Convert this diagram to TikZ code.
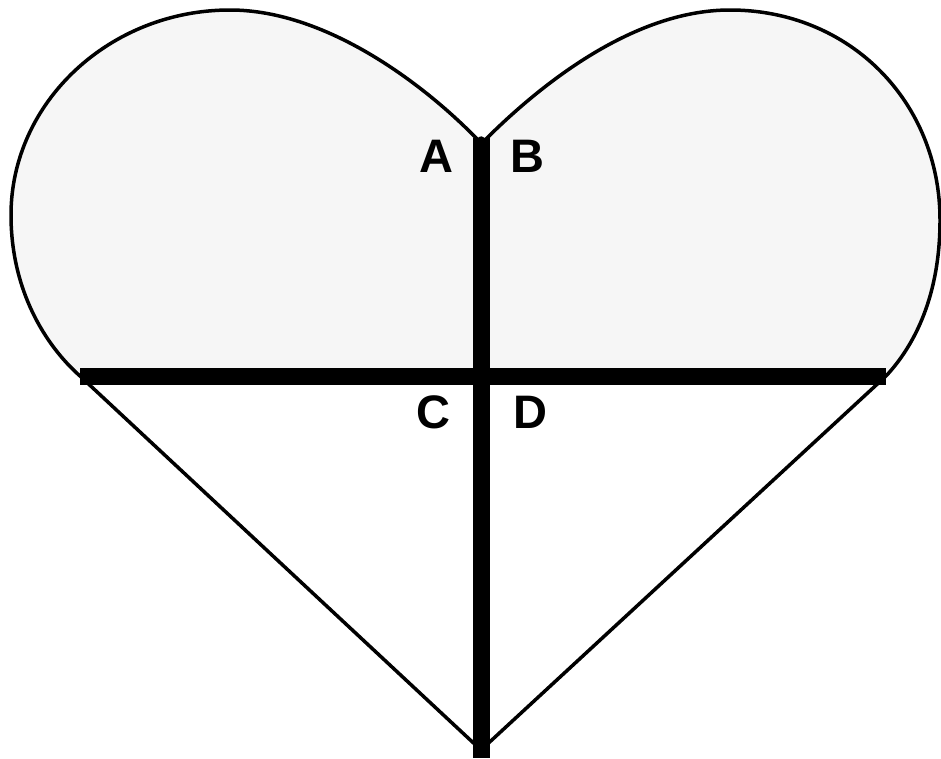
\documentclass[tikz,border=0pt]{standalone}
\usepackage{fontspec}
\setmainfont{Liberation Sans}
\begin{document}
\begin{tikzpicture}[x=1pt,y=-1pt,
  outline/.style={line width=3.5pt,line join=round,line cap=round},
  bar/.style={line width=17pt},
  lbl/.style={font=\fontsize{47}{50}\selectfont\bfseries,inner sep=0pt,anchor=center}]
\useasboundingbox[fill=white] (0,0) rectangle (941,758);
\coordinate (cusp) at (481,138);
\coordinate (lc) at (478,140);
\coordinate (rc) at (485,140);
\coordinate (lh) at (80,376);
\coordinate (rh) at (886,376);
\coordinate (tip) at (481,750);
\coordinate (vbot) at (481,758);
% upper lobes fill
\fill[gray!7] (lc) .. controls (430,90) and (330,10) .. (230,10)
  .. controls (110,10) and (11,102) .. (11,215)
  .. controls (11,290) and (45,345) .. (lh) -- (rh)
  .. controls (915,345) and (940,295) .. (940,220)
  .. controls (940,102) and (850,10) .. (730,10)
  .. controls (630,10) and (535,90) .. (rc) -- cycle;
% outline
\draw[outline] (lc) .. controls (430,90) and (330,10) .. (230,10)
  .. controls (110,10) and (11,102) .. (11,215)
  .. controls (11,290) and (45,345) .. (lh) -- (tip) -- (rh)
  .. controls (915,345) and (940,295) .. (940,220)
  .. controls (940,102) and (850,10) .. (730,10)
  .. controls (630,10) and (535,90) .. (rc) -- (cusp) -- cycle;
% thick bars
\draw[bar] (cusp) -- (vbot);
\draw[bar] (lh) -- (rh);
% labels
\node[lbl] (A) at (436,156) {A};
\node[lbl] (B) at (527,156) {B};
\node[lbl] (C) at (433,412) {C};
\node[lbl] (D) at (530,412) {D};
\end{tikzpicture}
\end{document}
